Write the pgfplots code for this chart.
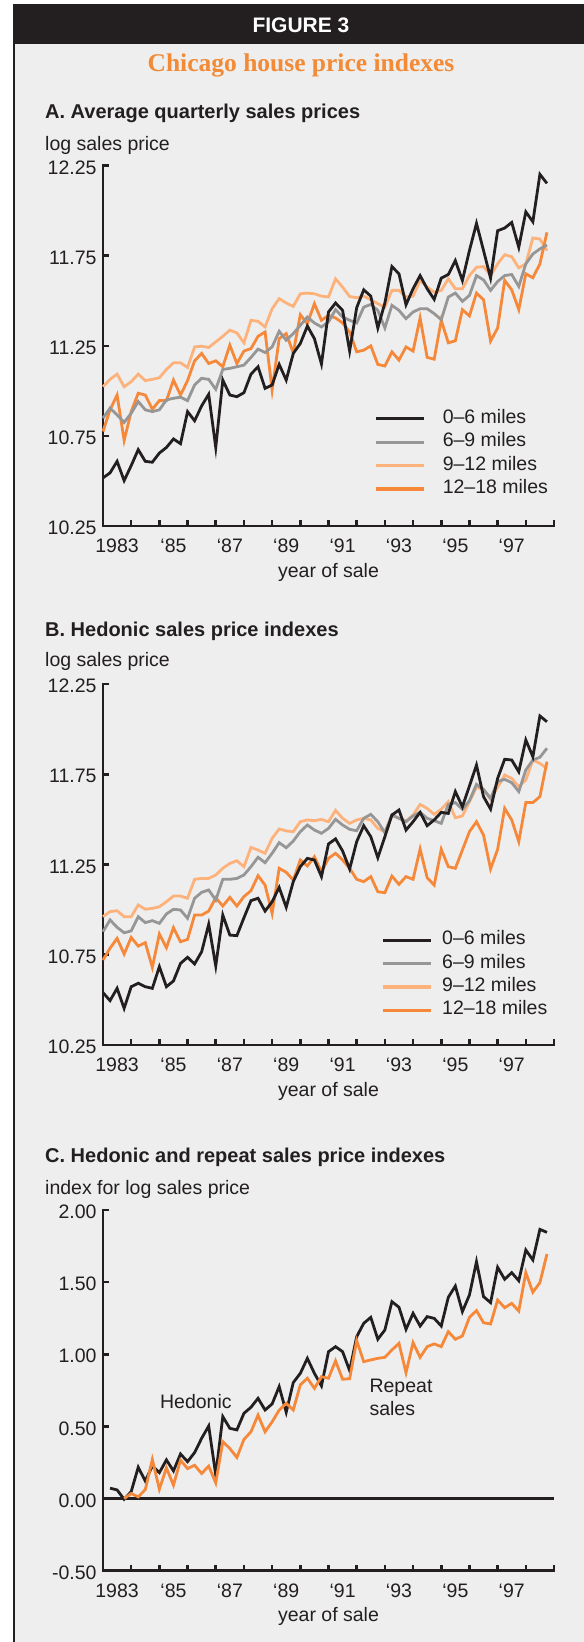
\documentclass[border=0pt]{standalone}
\usepackage{fontspec}
\setmainfont{Liberation Sans}
\newfontfamily\serifbold{Liberation Serif}
\usepackage{pgfplots}
\usepackage{pgfplotstable}
\pgfplotsset{compat=1.18}
\definecolor{ink}{HTML}{231F20}
\definecolor{bg}{HTML}{EEEEEE}
\definecolor{gline}{HTML}{969696}
\definecolor{lorange}{HTML}{FDB27C}
\definecolor{dorange}{HTML}{F6883A}
\definecolor{ttl}{HTML}{F28A36}
\newcommand{\txt}{\fontsize{19.5bp}{23.4bp}\selectfont}

\pgfplotstableread{
k a b c d
0 10.517 10.849 11.023 10.775
1 10.545 10.904 11.064 10.895
2 10.609 10.867 11.093 10.977
3 10.502 10.825 11.023 10.725
4 10.585 10.876 11.051 10.885
5 10.674 10.941 11.093 10.987
6 10.609 10.895 11.057 10.977
7 10.604 10.885 11.064 10.898
8 10.655 10.895 11.073 10.946
9 10.686 10.950 11.119 10.946
10 10.733 10.959 11.156 11.060
11 10.707 10.965 11.156 10.977
12 10.885 10.946 11.130 11.057
13 10.834 11.033 11.244 11.167
14 10.917 11.070 11.248 11.208
15 10.981 11.064 11.241 11.152
16 10.686 11.009 11.272 11.167
17 11.060 11.119 11.303 11.134
18 10.977 11.125 11.337 11.254
19 10.968 11.134 11.322 11.152
20 10.990 11.143 11.267 11.221
21 11.093 11.186 11.392 11.235
22 11.134 11.232 11.386 11.303
23 11.014 11.213 11.355 11.327
24 11.033 11.244 11.456 11.005
25 11.147 11.331 11.512 11.290
26 11.060 11.281 11.488 11.318
27 11.208 11.318 11.469 11.211
28 11.263 11.364 11.539 11.423
29 11.360 11.410 11.543 11.373
30 11.290 11.377 11.539 11.484
31 11.149 11.355 11.526 11.392
32 11.438 11.383 11.521 11.419
33 11.488 11.451 11.622 11.405
34 11.447 11.410 11.576 11.377
35 11.221 11.392 11.524 11.327
36 11.462 11.377 11.517 11.217
37 11.561 11.465 11.526 11.226
38 11.526 11.480 11.506 11.250
39 11.349 11.447 11.484 11.147
40 11.488 11.349 11.465 11.138
41 11.690 11.475 11.558 11.217
42 11.650 11.447 11.558 11.171
43 11.478 11.401 11.521 11.244
44 11.567 11.438 11.526 11.221
45 11.640 11.456 11.613 11.405
46 11.567 11.456 11.576 11.186
47 11.508 11.429 11.548 11.176
48 11.626 11.395 11.558 11.392
49 11.646 11.521 11.622 11.267
50 11.723 11.543 11.567 11.278
51 11.613 11.497 11.567 11.451
52 11.779 11.530 11.640 11.416
53 11.930 11.640 11.686 11.543
54 11.779 11.616 11.690 11.506
55 11.626 11.558 11.640 11.276
56 11.889 11.607 11.705 11.349
57 11.904 11.640 11.756 11.613
58 11.935 11.646 11.745 11.561
59 11.797 11.580 11.683 11.451
60 11.994 11.705 11.705 11.650
61 11.939 11.760 11.849 11.628
62 12.202 11.788 11.843 11.705
63 12.152 11.810 11.779 11.880
}\tabA

\pgfplotstableread{
k a b c d
0 10.540 10.878 10.961 10.721
1 10.496 10.943 10.989 10.786
2 10.564 10.902 10.994 10.841
3 10.453 10.872 10.961 10.754
4 10.573 10.882 10.961 10.846
5 10.592 10.961 11.026 10.798
6 10.573 10.928 11.002 10.817
7 10.564 10.939 11.007 10.680
8 10.684 10.924 11.016 10.865
9 10.573 10.976 11.044 10.789
10 10.605 11.002 11.075 10.900
11 10.702 10.998 11.075 10.822
12 10.736 10.952 11.063 10.835
13 10.699 11.063 11.168 10.970
14 10.767 11.096 11.173 10.970
15 10.919 11.109 11.173 10.992
16 10.688 11.053 11.192 11.066
17 10.970 11.168 11.229 11.020
18 10.859 11.168 11.256 11.068
19 10.856 11.173 11.271 11.020
20 10.955 11.192 11.238 11.072
21 11.050 11.238 11.345 11.105
22 11.063 11.290 11.330 11.188
23 10.992 11.260 11.312 11.136
24 11.044 11.312 11.395 10.979
25 11.123 11.371 11.447 11.229
26 11.013 11.343 11.436 11.207
27 11.155 11.380 11.432 11.164
28 11.238 11.432 11.487 11.275
29 11.284 11.469 11.497 11.242
30 11.275 11.441 11.493 11.293
31 11.183 11.423 11.500 11.210
32 11.364 11.450 11.487 11.284
33 11.392 11.500 11.550 11.312
34 11.325 11.469 11.506 11.275
35 11.225 11.445 11.478 11.229
36 11.377 11.437 11.497 11.168
37 11.465 11.506 11.506 11.155
38 11.404 11.528 11.497 11.183
39 11.288 11.487 11.450 11.099
40 11.404 11.426 11.432 11.094
41 11.524 11.524 11.524 11.186
42 11.552 11.506 11.506 11.140
43 11.441 11.487 11.491 11.183
44 11.487 11.519 11.524 11.168
45 11.539 11.539 11.583 11.336
46 11.465 11.506 11.561 11.177
47 11.497 11.493 11.528 11.136
48 11.539 11.478 11.556 11.334
49 11.533 11.583 11.598 11.238
50 11.654 11.593 11.509 11.229
51 11.570 11.556 11.519 11.330
52 11.685 11.604 11.598 11.432
53 11.801 11.694 11.678 11.487
54 11.626 11.666 11.666 11.413
55 11.557 11.617 11.611 11.225
56 11.727 11.709 11.678 11.334
57 11.833 11.722 11.746 11.561
58 11.829 11.703 11.727 11.497
59 11.764 11.654 11.681 11.377
60 11.940 11.774 11.718 11.593
61 11.847 11.829 11.829 11.593
62 12.073 11.844 11.810 11.626
63 12.041 11.894 11.783 11.820
}\tabB

\pgfplotstableread{
k h r
1 0.072 nan
2 0.060 nan
3 -0.005 0.000
4 0.048 0.035
5 0.217 0.012
6 0.122 0.062
7 0.226 0.271
8 0.180 0.065
9 0.268 0.213
10 0.192 0.093
11 0.309 0.266
12 0.256 0.208
13 0.319 0.231
14 0.418 0.174
15 0.503 0.225
16 0.164 0.109
17 0.568 0.394
18 0.487 0.347
19 0.476 0.285
20 0.591 0.410
21 0.633 0.463
22 0.695 0.579
23 0.614 0.463
24 0.656 0.532
25 0.776 0.613
26 0.598 0.660
27 0.804 0.614
28 0.868 0.788
29 0.972 0.834
30 0.868 0.764
31 0.781 0.845
32 1.018 0.834
33 1.053 0.955
34 1.018 0.827
35 0.887 0.831
36 1.122 1.095
37 1.215 0.949
38 1.256 0.961
39 1.104 0.972
40 1.169 0.979
41 1.365 1.030
42 1.326 1.076
43 1.173 0.873
44 1.284 1.081
45 1.196 0.979
46 1.261 1.053
47 1.249 1.072
48 1.196 1.053
49 1.395 1.157
50 1.473 1.104
51 1.296 1.127
52 1.411 1.256
53 1.642 1.303
54 1.400 1.219
55 1.358 1.210
56 1.603 1.376
57 1.520 1.323
58 1.566 1.353
59 1.510 1.300
60 1.723 1.566
61 1.654 1.430
62 1.866 1.497
63 1.845 1.695
}\tabC

\pgfplotsset{
  panel/.style={
    scale only axis, width=451bp,
    xmin=1983, xmax=1999,
    axis lines*=left,
    axis line style={ink, line width=2.6bp, line cap=rect},
    tick style={ink, line width=2.6bp},
    tick align=inside,
    major tick length=6bp,
    xtick={1984,1985,...,1999},
    xticklabels={,,,,,,,,,,,,,,,},
    extra x ticks={1983.5,1985.5,1987.5,1989.5,1991.5,1993.5,1995.5,1997.5},
    extra x tick labels={1983,‘85,‘87,‘89,‘91,‘93,‘95,‘97},
    extra x tick style={major tick length=0pt},
    tick label style={font=\txt, text=ink},
    xticklabel style={anchor=base, inner sep=0pt, yshift=-26.7bp},
    yticklabel style={anchor=base east, inner sep=0pt, xshift=-6.3bp, yshift=-8.6bp},
    xlabel={year of sale},
    xlabel style={at={(axis description cs:0.5,0)}, anchor=base, yshift=-51bp, font=\txt, text=ink, inner sep=0pt},
    clip=false,
    legend cell align=left,
    legend image code/.code={\draw[##1] (0bp,0bp) -- (48bp,0bp);},
    legend style={draw=none, fill=none, inner sep=0pt, font=\txt, text=ink,
      nodes={inner sep=0pt, text height=14bp, text depth=5bp},
      row sep=4.4bp},
  },
  ser/.style={line width=2.8bp},
}

\begin{document}
\begin{tikzpicture}
\useasboundingbox (0,0) rectangle (584bp,-1642bp);
\fill[white] (0,0) rectangle (584bp,-1642bp);
\fill[bg] (13bp,-4bp) rectangle (584bp,-1642bp);
\fill[ink] (13bp,-4bp) rectangle (584bp,-44bp);
\draw[ink, line width=2bp] (14bp,-44bp) -- (14bp,-1642bp);
\node[anchor=base, text=white, inner sep=0pt, font=\bfseries\fontsize{21bp}{25bp}\selectfont] at (301bp,-32.3bp) {FIGURE 3};
\node[anchor=base, text=ttl, inner sep=0pt, font=\serifbold\bfseries\fontsize{25.5bp}{30bp}\selectfont] at (301bp,-71bp) {Chicago house price indexes};

\node[anchor=base west, text=ink, inner sep=0pt, font=\bfseries\fontsize{20bp}{24bp}\selectfont] at (45bp,-118.3bp) {A. Average quarterly sales prices};
\node[anchor=base west, text=ink, inner sep=0pt, font=\txt] at (45bp,-150.7bp) {log sales price};
\node[anchor=base west, text=ink, inner sep=0pt, font=\bfseries\fontsize{20bp}{24bp}\selectfont] at (45bp,-636.7bp) {B. Hedonic sales price indexes};
\node[anchor=base west, text=ink, inner sep=0pt, font=\txt] at (45bp,-666.7bp) {log sales price};
\node[anchor=base west, text=ink, inner sep=0pt, font=\bfseries\fontsize{20bp}{24bp}\selectfont] at (45bp,-1162bp) {C. Hedonic and repeat sales price indexes};
\node[anchor=base west, text=ink, inner sep=0pt, font=\txt] at (45bp,-1194bp) {index for log sales price};

% Panel A
\begin{axis}[panel, at={(103bp,-526bp)}, anchor=south west, height=360.3bp,
  ymin=10.25, ymax=12.25, ytick={10.25,10.75,11.25,11.75,12.25},
  yticklabels={10.25,10.75,11.25,11.75,12.25},
  legend style={at={(axis description cs:0.6009,0.3245)}, anchor=north west,
    /tikz/every odd column/.append style={column sep=17.3bp}}]
\addlegendimage{ink, line width=3.3bp}
\addlegendimage{gline, line width=3.3bp}
\addlegendimage{lorange, line width=3.3bp}
\addlegendimage{dorange, line width=3.3bp}
\legend{0–6 miles, 6–9 miles, 9–12 miles, 12–18 miles}
\addplot[ser, lorange, forget plot] table[x expr=1983+0.25*\thisrow{k}, y=c] {\tabA};
\addplot[ser, dorange, forget plot] table[x expr=1983+0.25*\thisrow{k}, y=d] {\tabA};
\addplot[ser, gline, forget plot] table[x expr=1983+0.25*\thisrow{k}, y=b] {\tabA};
\addplot[ser, ink, forget plot] table[x expr=1983+0.25*\thisrow{k}, y=a] {\tabA};
\end{axis}

% Panel B
\begin{axis}[panel, at={(103bp,-1045bp)}, anchor=south west, height=361bp,
  ymin=10.25, ymax=12.25, ytick={10.25,10.75,11.25,11.75,12.25},
  yticklabels={10.25,10.75,11.25,11.75,12.25},
  legend style={at={(axis description cs:0.6157,0.317)}, anchor=north west,
    /tikz/every odd column/.append style={column sep=10bp}}]
\addlegendimage{ink, line width=3.3bp}
\addlegendimage{gline, line width=3.3bp}
\addlegendimage{lorange, line width=3.3bp}
\addlegendimage{dorange, line width=3.3bp}
\legend{0–6 miles, 6–9 miles, 9–12 miles, 12–18 miles}
\addplot[ser, lorange, forget plot] table[x expr=1983+0.25*\thisrow{k}, y=c] {\tabB};
\addplot[ser, dorange, forget plot] table[x expr=1983+0.25*\thisrow{k}, y=d] {\tabB};
\addplot[ser, gline, forget plot] table[x expr=1983+0.25*\thisrow{k}, y=b] {\tabB};
\addplot[ser, ink, forget plot] table[x expr=1983+0.25*\thisrow{k}, y=a] {\tabB};
\end{axis}

% Panel C
\begin{axis}[panel, at={(103bp,-1570.7bp)}, anchor=south west, height=360.7bp,
  ymin=-0.5, ymax=2, ytick={-0.5,0,0.5,1,1.5,2},
  yticklabels={-0.50,0.00,0.50,1.00,1.50,2.00}]
\addplot[ink, line width=2.6bp, forget plot] coordinates {(1983,0) (1999,0)};
\addplot[ser, ink, forget plot] table[x expr=1983+0.25*\thisrow{k}, y=h] {\tabC};
\addplot[ser, dorange, forget plot] table[x expr=1983+0.25*\thisrow{k}, y=r] {\tabC};
\node[anchor=base west, text=ink, inner sep=0pt, font=\txt] at (axis cs:1985.02,0.623) {Hedonic};
\node[anchor=base west, text=ink, inner sep=0pt, font=\txt] at (axis cs:1992.45,0.732) {Repeat};
\node[anchor=base west, text=ink, inner sep=0pt, font=\txt] at (axis cs:1992.45,0.574) {sales};
\end{axis}
\end{tikzpicture}
\end{document}
